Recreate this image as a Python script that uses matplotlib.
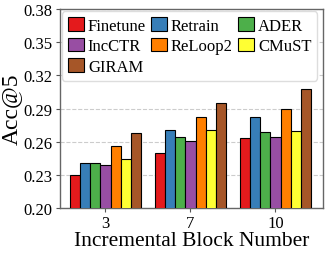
import numpy as np
import matplotlib
matplotlib.use('Agg')
import matplotlib.pyplot as plt

plt.rcParams['font.family'] = 'Liberation Serif'
plt.rcParams['mathtext.fontset'] = 'stix'

# data
blocks = ['3', '7', '10']
methods = ['Finetune', 'Retrain', 'ADER', 'IncCTR', 'ReLoop2', 'CMuST', 'GIRAM']
acc = {
    'Finetune': [0.230, 0.250, 0.263],
    'Retrain':  [0.241, 0.271, 0.282],
    'ADER':     [0.241, 0.264, 0.269],
    'IncCTR':   [0.239, 0.261, 0.264],
    'ReLoop2':  [0.256, 0.282, 0.290],
    'CMuST':    [0.244, 0.271, 0.270],
    'GIRAM':    [0.268, 0.295, 0.308],
}
colors = ['#e41a1c', '#377eb8', '#4daf4a', '#984ea3', '#ff7f00', '#ffff33', '#a65628']
yticks = [0.20, 0.23, 0.26, 0.29, 0.32, 0.35, 0.38]

fig = plt.figure(figsize=(3.29, 2.55), dpi=100)
ax = fig.add_axes([0.181, 0.180, 0.801, 0.781])

x = np.arange(len(blocks))
w = 0.12
bars = {}
for i, m in enumerate(methods):
    bars[m] = ax.bar(x + (i - 3) * w, acc[m], width=w, color=colors[i],
                     edgecolor='black', linewidth=0.8, label=m, zorder=3)

ax.set_xlim(-0.54, 2.56)
ax.set_ylim(0.20, 0.38)
ax.set_yticks(yticks)
ax.set_yticklabels(['%.2f' % v for v in yticks])
ax.set_xticks(x)
ax.set_xticklabels(blocks)
ax.tick_params(labelsize=12, length=3, width=0.8, pad=2, color='#555555')
ax.grid(axis='y', linestyle='--', color='#cccccc', linewidth=0.8, zorder=0)
for s in ax.spines.values():
    s.set_color('#666666')
    s.set_linewidth(1.0)

ax.set_xlabel('Incremental Block Number', fontsize=15.5, labelpad=0)
ax.set_ylabel('Acc@5', fontsize=17, labelpad=1)

# row-wise legend order (matplotlib fills columns first)
order = ['Finetune', 'IncCTR', 'GIRAM', 'Retrain', 'ReLoop2', 'ADER', 'CMuST']
ax.legend([bars[m] for m in order], order, loc='upper left', ncol=3, fontsize=12,
          frameon=True, fancybox=True, edgecolor='#dddddd', framealpha=1.0,
          handlelength=0.95, handleheight=0.85, handletextpad=0.25,
          columnspacing=0.3, labelspacing=0.25, borderpad=0.35, borderaxespad=0.15)

fig.savefig('out.png', dpi=100)
